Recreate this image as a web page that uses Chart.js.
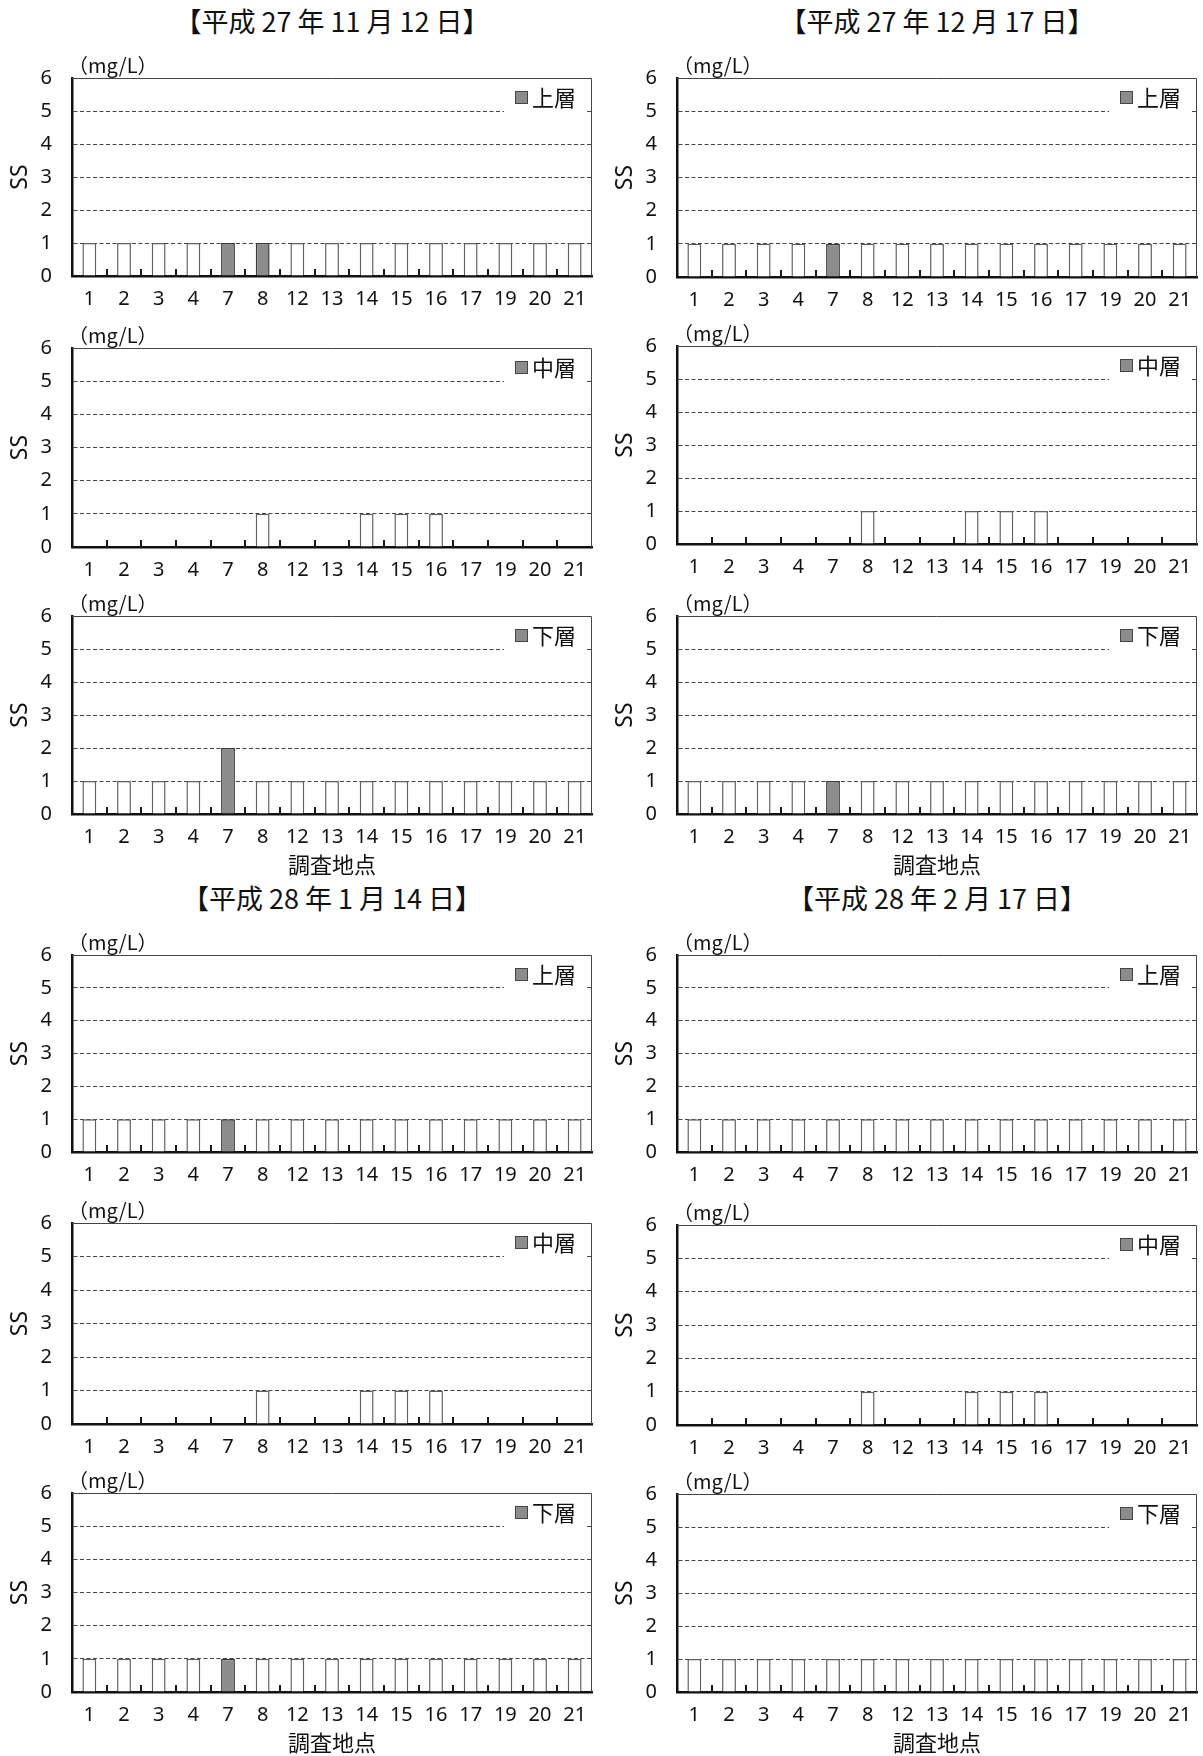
<!DOCTYPE html>
<html>
<head>
<meta charset="utf-8">
<script src="https://cdn.jsdelivr.net/npm/chart.js@4.4.0/dist/chart.umd.min.js"></script>
<style>
body { margin: 0; background: #fff; width: 1203px; height: 1756px; position: relative; overflow: hidden; }
.title { position: absolute; width: 600px; text-align: center; font-family: "Noto Sans CJK JP", sans-serif; font-size: 27px; line-height: 32px; color: #111; }
canvas { position: absolute; }
</style>
</head>
<body>
<script>
/* ----------- Data ----------- */
const stations = ['1', '2', '3', '4', '7', '8', '12', '13', '14', '15', '16', '17', '19', '20', '21'];
const layers = ['上層', '中層', '下層'];
const dates = ['【平成 27 年 11 月 12 日】', '【平成 27 年 12 月 17 日】', '【平成 28 年 1 月 14 日】', '【平成 28 年 2 月 17 日】'];

// SS (mg/L) per station, null = no sample for that layer
const h2711_upper  = [1, 1, 1, 1, 1, 1, 1, 1, 1, 1, 1, 1, 1, 1, 1];
const h2711_middle = [null, null, null, null, null, 1, null, null, 1, 1, 1, null, null, null, null];
const h2711_lower  = [1, 1, 1, 1, 2, 1, 1, 1, 1, 1, 1, 1, 1, 1, 1];
const h2712_upper  = [1, 1, 1, 1, 1, 1, 1, 1, 1, 1, 1, 1, 1, 1, 1];
const h2712_middle = [null, null, null, null, null, 1, null, null, 1, 1, 1, null, null, null, null];
const h2712_lower  = [1, 1, 1, 1, 1, 1, 1, 1, 1, 1, 1, 1, 1, 1, 1];
const h2801_upper  = [1, 1, 1, 1, 1, 1, 1, 1, 1, 1, 1, 1, 1, 1, 1];
const h2801_middle = [null, null, null, null, null, 1, null, null, 1, 1, 1, null, null, null, null];
const h2801_lower  = [1, 1, 1, 1, 1, 1, 1, 1, 1, 1, 1, 1, 1, 1, 1];
const h2802_upper  = [1, 1, 1, 1, 1, 1, 1, 1, 1, 1, 1, 1, 1, 1, 1];
const h2802_middle = [null, null, null, null, null, 1, null, null, 1, 1, 1, null, null, null, null];
const h2802_lower  = [1, 1, 1, 1, 1, 1, 1, 1, 1, 1, 1, 1, 1, 1, 1];

// stations whose bar is filled gray
const h2711_upperDark = ['7', '8'];
const h2711_lowerDark = ['7'];
const h2712_upperDark = ['7'];
const h2712_lowerDark = ['7'];
const h2801_upperDark = ['7'];
const h2801_lowerDark = ['7'];

const yTicks = [0, 1, 2, 3, 4, 5, 6];

const panels = [
    { values: [h2711_upper, h2711_middle, h2711_lower], dark: [h2711_upperDark, [], h2711_lowerDark] },
    { values: [h2712_upper, h2712_middle, h2712_lower], dark: [h2712_upperDark, [], h2712_lowerDark] },
    { values: [h2801_upper, h2801_middle, h2801_lower], dark: [h2801_upperDark, [], h2801_lowerDark] },
    { values: [h2802_upper, h2802_middle, h2802_lower], dark: [[], [], []] }
];

/* ----------- Layout ----------- */
const colLeft = [0, 605];
const titleCenter = [332, 937];
const titleTop = [5, 882];
const areaTop = [[78, 348, 616, 955, 1223, 1493], [78, 346, 616, 955, 1225, 1494]];
const areaBottom = [[276, 547, 814, 1152, 1424, 1692], [277, 544, 814, 1152, 1425, 1692]];

const latin = '"Noto Sans", "Noto Sans CJK JP", sans-serif';
const cjk = '"Noto Sans CJK JP", sans-serif';
const DARK = '#8c8c8c';

/* ----------- Plugin: frame, inner ticks, legend, unit ----------- */
const decor = {
    id: 'decor',
    afterDatasetsDraw(chart) {
        const { ctx, chartArea: a, scales: { x } } = chart;
        ctx.save();
        ctx.strokeStyle = '#444';
        ctx.lineWidth = 1;
        ctx.beginPath();
        ctx.moveTo(a.left, a.top + 0.5);
        ctx.lineTo(a.right - 0.5, a.top + 0.5);
        ctx.lineTo(a.right - 0.5, a.bottom);
        ctx.stroke();
        ctx.strokeStyle = '#1a1a1a';
        ctx.lineWidth = 2;
        for (let i = 1; i < stations.length; i++) {
            const px = Math.round((x.getPixelForTick(i - 1) + x.getPixelForTick(i)) / 2);
            ctx.beginPath();
            ctx.moveTo(px, a.bottom);
            ctx.lineTo(px, a.bottom - 7);
            ctx.stroke();
        }
        ctx.restore();
    },
    afterDraw(chart) {
        const { ctx, chartArea: a } = chart;
        ctx.save();
        // legend box
        ctx.fillStyle = '#fff';
        ctx.fillRect(a.right - 88, a.top + 4, 82, 32);
        ctx.fillStyle = DARK;
        ctx.strokeStyle = '#444';
        ctx.lineWidth = 1;
        ctx.fillRect(a.right - 77, a.top + 13, 13, 13);
        ctx.strokeRect(a.right - 76.5, a.top + 13.5, 12, 12);
        ctx.fillStyle = '#111';
        ctx.font = '22px ' + cjk;
        ctx.textBaseline = 'middle';
        ctx.textAlign = 'left';
        ctx.fillText(chart.data.datasets[0].label, a.right - 60, a.top + 20);
        // unit
        ctx.font = '20px ' + cjk;
        ctx.fillText('（mg/L）', a.left - 4, a.top - 13);
        ctx.restore();
    }
};

/* ----------- Build charts ----------- */
dates.forEach((d, i) => {
    const col = i % 2;
    const t = document.createElement('div');
    t.className = 'title';
    t.textContent = d;
    t.style.left = (titleCenter[col] - 300) + 'px';
    t.style.top = titleTop[Math.floor(i / 2)] + 'px';
    document.body.appendChild(t);
});

panels.forEach((p, i) => {
    const col = i % 2;
    const block = Math.floor(i / 2);
    layers.forEach((layer, li) => {
        const row = block * 3 + li;
        const top = areaTop[col][row];
        const h = areaBottom[col][row] - top;
        const canvas = document.createElement('canvas');
        canvas.width = 600;
        canvas.height = h + 40 + 70;
        canvas.style.left = colLeft[col] + 'px';
        canvas.style.top = (top - 40) + 'px';
        document.body.appendChild(canvas);

        const dark = p.dark[li];
        new Chart(canvas.getContext('2d'), {
            type: 'bar',
            data: {
                labels: stations,
                datasets: [{
                    label: layer,
                    data: p.values[li],
                    backgroundColor: stations.map(s => dark.includes(s) ? DARK : '#ffffff'),
                    borderColor: stations.map(s => dark.includes(s) ? '#3a3a3a' : '#606060'),
                    borderWidth: 1.5,
                    barPercentage: 0.4,
                    categoryPercentage: 1
                }]
            },
            options: {
                responsive: false,
                animation: false,
                layout: { padding: { left: 0, right: 8, top: 40, bottom: 0 } },
                plugins: { legend: { display: false }, tooltip: { enabled: false } },
                scales: {
                    x: {
                        grid: { display: false },
                        border: { display: true, color: '#111', width: 2.5 },
                        ticks: { color: '#111', font: { family: latin, size: 20 }, padding: 3, maxRotation: 0, autoSkip: false },
                        title: { display: li === 2, text: '調査地点', color: '#111', font: { family: cjk, size: 22 }, padding: { top: 0, bottom: 6 } },
                        afterFit: s => { s.height = 70; }
                    },
                    y: {
                        min: yTicks[0],
                        max: yTicks[yTicks.length - 1],
                        afterBuildTicks: s => { s.ticks = yTicks.map(v => ({ value: v })); },
                        ticks: { color: '#111', font: { family: latin, size: 20 }, padding: 20 },
                        grid: { color: '#444', lineWidth: 1, drawTicks: false },
                        border: { display: true, color: '#111', width: 2.5, dash: [4, 2.5] },
                        title: { display: true, text: 'SS', color: '#111', font: { family: latin, size: 23 }, padding: { top: 7, bottom: 0 } },
                        afterFit: s => { s.width = 72; }
                    }
                }
            },
            plugins: [decor]
        });
    });
});
</script>
</body>
</html>
